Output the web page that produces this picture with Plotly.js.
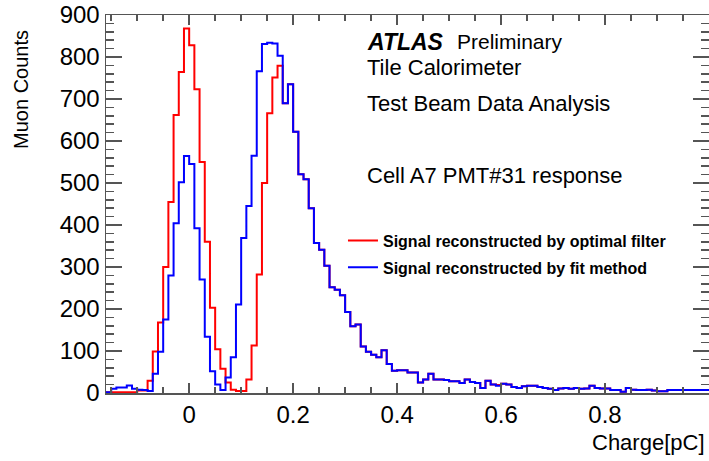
<!DOCTYPE html>
<html>
<head>
<meta charset="utf-8">
<script src="https://cdn.plot.ly/plotly-3.0.1.min.js"></script>
<style>
  html, body { margin: 0; padding: 0; background: #ffffff; }
  #chart { width: 709px; height: 461px; }
</style>
</head>
<body>
<div id="chart"></div>
<script>
// Histogram binning (Charge in pC)
const binStart = -0.16;
const binWidth = 0.01;

// Signal reconstructed by optimal filter (red)
const optimalFilterCounts = [
  2, 2, 2, 2, 2, 2, 6, 6, 29, 99,
  168, 300, 455, 662, 764, 868, 828, 723, 550, 360,
  203, 104, 58, 25, 8, 5, 5, 32, 113, 282,
  500, 666, 751, 779, 690, 735, 622, 521, 509, 440,
  357, 341, 303, 252, 246, 233, 193, 159, 163, 111,
  98, 91, 85, 102, 69, 53, 54, 54, 49, 49,
  25, 32, 46, 32, 32, 31, 28, 28, 24, 32,
  26, 24, 12, 29, 20, 19, 22, 20, 14, 12,
  16, 17, 17, 14, 12, 10, 7, 11, 12, 10,
  12, 10, 11, 17, 12, 11, 11, 7, 7, 3,
  12, 8, 7, 7, 8, 6, 4, 4, 7, 7,
  7, 7, 7, 7, 7, 7
];

// Signal reconstructed by fit method (blue)
const fitMethodCounts = [
  2, 10, 13, 13, 18, 10, 8, 7, 5, 46,
  98, 175, 280, 404, 502, 564, 545, 392, 270, 134,
  52, 20, 7, 37, 85, 211, 369, 445, 565, 766,
  831, 834, 832, 803, 690, 735, 622, 521, 509, 440,
  357, 341, 303, 252, 246, 233, 193, 159, 163, 111,
  98, 91, 85, 102, 69, 53, 54, 54, 49, 49,
  25, 32, 46, 32, 32, 31, 28, 28, 24, 32,
  26, 24, 12, 29, 20, 17, 22, 20, 14, 12,
  16, 17, 17, 14, 12, 10, 7, 11, 12, 10,
  12, 10, 11, 17, 12, 11, 11, 7, 7, 3,
  12, 8, 7, 7, 8, 6, 4, 4, 7, 7,
  7, 7, 7, 7, 7, 7
];

const seriesNames = [
  "Signal reconstructed by optimal filter",
  "Signal reconstructed by fit method"
];
const yTickVals = [0, 100, 200, 300, 400, 500, 600, 700, 800, 900];
const xTickVals = [0, 0.2, 0.4, 0.6, 0.8, 1];
const xTickText = ["0", "0.2", "0.4", "0.6", "0.8", "1"];

function stepXY(counts) {
  const x = [], y = [];
  for (let i = 0; i < counts.length; i++) {
    x.push(+(binStart + i * binWidth).toFixed(4));
    y.push(counts[i]);
  }
  x.push(+(binStart + counts.length * binWidth).toFixed(4));
  y.push(counts[counts.length - 1]);
  return {x, y};
}

const red = stepXY(optimalFilterCounts);
const blue = stepXY(fitMethodCounts);

const FONT = "Liberation Sans, Arial, sans-serif";

const traces = [
  {type: "scatter", mode: "lines", x: red.x, y: red.y, name: seriesNames[0],
   legendgroup: "a", line: {color: "#ff0000", width: 2, shape: "hv"}},
  {type: "scatter", mode: "lines", x: blue.x, y: blue.y, name: seriesNames[1],
   legendgroup: "b", line: {color: "#0000ff", width: 2, shape: "hv"}}
];

const axisCommon = {
  showgrid: false, zeroline: false, showline: true, linecolor: "#555555", linewidth: 1.5,
  mirror: "ticks", ticks: "inside", tickcolor: "#555555", tickwidth: 1.5,
  tickfont: {family: FONT, size: 24, color: "#000000"}
};

const layout = {
  width: 709, height: 461,
  margin: {l: 106, r: 0, t: 15, b: 68},
  paper_bgcolor: "#ffffff", plot_bgcolor: "#ffffff",
  showlegend: true,
  legend: {
    x: 0.393, y: 0.448, xanchor: "left", yanchor: "top",
    bgcolor: "rgba(0,0,0,0)", borderwidth: 0, tracegroupgap: 3,
    font: {family: FONT, size: 16, color: "#000000", weight: "bold"}
  },
  xaxis: Object.assign({}, axisCommon, {
    range: [-0.16, 1.0], tickmode: "array", tickvals: xTickVals, ticktext: xTickText,
    ticklen: 10,
    minor: {dtick: 0.05, tick0: 0, ticklen: 6, ticks: "inside", tickcolor: "#555555", tickwidth: 1.5}
  }),
  yaxis: Object.assign({}, axisCommon, {
    range: [0, 900], tickmode: "array", tickvals: yTickVals,
    ticklen: 16,
    minor: {dtick: 20, tick0: 0, ticklen: 8, ticks: "inside", tickcolor: "#555555", tickwidth: 1.5}
  }),
  annotations: [
    {xref: "paper", yref: "paper", x: -0.14, y: 0.966, xanchor: "center", yanchor: "top",
     textangle: -90, text: "Muon Counts", showarrow: false,
     font: {family: FONT, size: 20, color: "#000000"}},
    {xref: "paper", yref: "paper", x: 0.996, y: -0.132, xanchor: "right", yanchor: "middle",
     text: "Charge[pC]", showarrow: false,
     font: {family: FONT, size: 22, color: "#000000"}},
    {xref: "paper", yref: "paper", x: (365 - 106) / 603, y: (393 - 42) / 378, xanchor: "left", yanchor: "middle",
     text: "<b><i>ATLAS</i></b>", showarrow: false,
     font: {family: FONT, size: 23, color: "#000000"}},
    {xref: "paper", yref: "paper", x: (455 - 106) / 603, y: (393 - 42) / 378, xanchor: "left", yanchor: "middle",
     text: "Preliminary", showarrow: false,
     font: {family: FONT, size: 21, color: "#000000"}},
    {xref: "paper", yref: "paper", x: (365 - 106) / 603, y: (393 - 67) / 378, xanchor: "left", yanchor: "middle",
     text: "Tile Calorimeter", showarrow: false,
     font: {family: FONT, size: 22, color: "#000000"}},
    {xref: "paper", yref: "paper", x: (365 - 106) / 603, y: (393 - 103) / 378, xanchor: "left", yanchor: "middle",
     text: "Test Beam Data Analysis", showarrow: false,
     font: {family: FONT, size: 22, color: "#000000"}},
    {xref: "paper", yref: "paper", x: (365 - 106) / 603, y: (393 - 175) / 378, xanchor: "left", yanchor: "middle",
     text: "Cell A7 PMT#31 response", showarrow: false,
     font: {family: FONT, size: 22, color: "#000000"}}
  ]
};

Plotly.newPlot("chart", traces, layout, {staticPlot: true, displayModeBar: false});
</script>
</body>
</html>
